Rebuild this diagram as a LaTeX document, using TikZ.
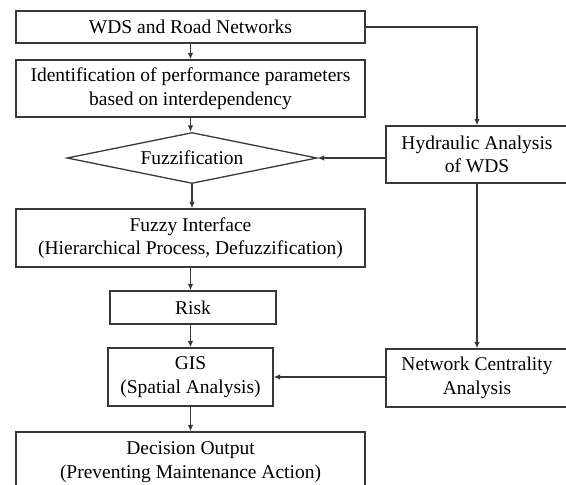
\documentclass[tikz,border=0pt]{standalone}
\usepackage{fontspec}
\setmainfont{Liberation Serif}
\usetikzlibrary{shapes.geometric,arrows.meta}
\begin{document}
\begin{tikzpicture}[x=1pt,y=-1pt,
  every node/.style={font=\fontsize{19.5}{23.5}\selectfont, text=black, align=center, inner sep=0pt},
  box/.style={draw=black!78, line width=1.3pt, rectangle},
  dia/.style={draw=black!78, line width=1.3pt, diamond, aspect=4.9},
  conn/.style={draw=black!78, line width=1.2pt, -{Latex[length=6.5pt,width=5.5pt]}}
]
\useasboundingbox (0,0) rectangle (566,485);
\begin{scope}
\clip (0,0) rectangle (566,485);
\node[box, minimum width=349pt, minimum height=32pt] (wds) at (190.5,27) {WDS and Road Networks};
\node[box, minimum width=349pt, minimum height=57pt] (ident) at (190.5,88.5) {Identification of performance parameters\\based on interdependency};
\node[dia, minimum width=250pt, minimum height=51pt] (fuzz) at (192,158) {Fuzzification};
\node[box, minimum width=349pt, minimum height=58pt] (fi) at (190.5,238) {Fuzzy Interface\\(Hierarchical Process, Defuzzification)};
\node[box, minimum width=166pt, minimum height=33pt] (risk) at (193,307.5) {Risk};
\node[box, minimum width=165pt, minimum height=58pt] (gis) at (190.5,377) {GIS\\(Spatial Analysis)};
\node[box, minimum width=349pt, minimum height=60pt] (dec) at (190.5,462) {Decision Output\\(Preventing Maintenance Action)};
\node[box, minimum width=182pt, minimum height=57pt] (hyd) at (477,154.5) {Hydraulic Analysis\\of WDS};
\node[box, minimum width=182pt, minimum height=58pt] (net) at (477,378) {Network Centrality\\Analysis};

\draw[conn] (wds) -- (ident);
\draw[conn] (ident.south) -- (ident.south |- fuzz.north);
\draw[conn] (fuzz.south) -- (fuzz.south |- fi.north);
\draw[conn] (fi.south) -- (fi.south |- risk.north);
\draw[conn] (gis.north |- risk.south) -- (gis.north);
\draw[conn] (gis) -- (dec);
\draw[conn] (wds.east) -| (hyd.north);
\draw[conn] (fuzz.east -| hyd.west) -- (fuzz.east);
\draw[conn] (hyd) -- (net);
\draw[conn] (gis.east -| net.west) -- (gis.east);
\end{scope}
\end{tikzpicture}
\end{document}
